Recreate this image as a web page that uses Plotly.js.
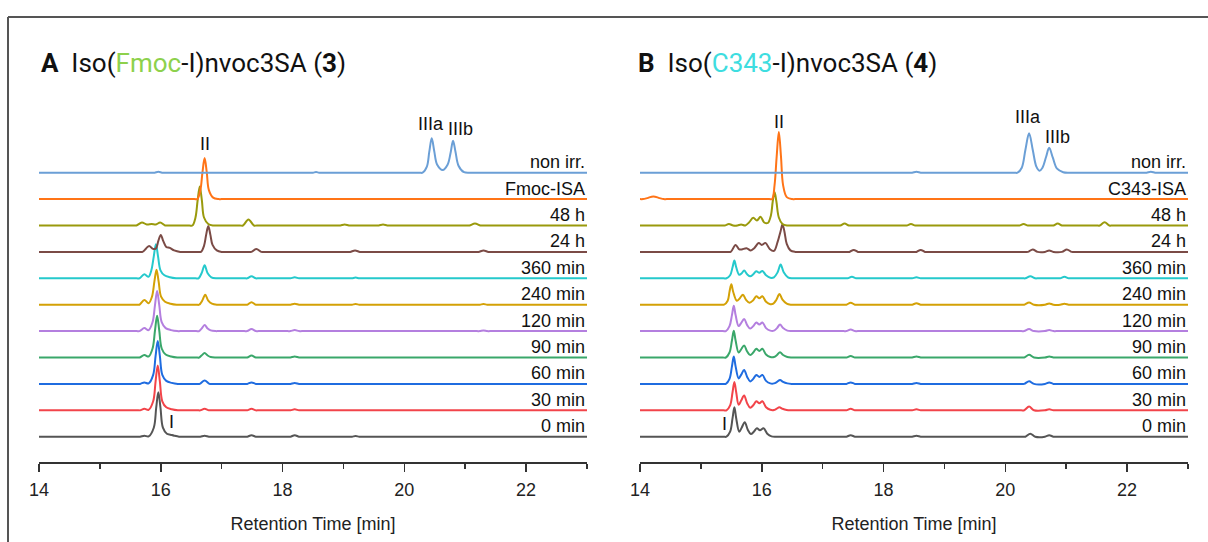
<!DOCTYPE html>
<html>
<head>
<meta charset="utf-8">
<script src="https://cdn.plot.ly/plotly-3.0.1.min.js"></script>
<style>html,body{margin:0;padding:0;background:#fff;}#chart{width:1208px;height:542px;}</style>
</head>
<body>
<div id="chart"></div>
<script>
// ---------- DATA (retention time [min] / signal height) ----------
const labelsA = ['non irr.', 'Fmoc-ISA', '48 h', '24 h', '360 min', '240 min', '120 min', '90 min', '60 min', '30 min', '0 min'];
const labelsB = ['non irr.', 'C343-ISA', '48 h', '24 h', '360 min', '240 min', '120 min', '90 min', '60 min', '30 min', '0 min'];
const tickValues = [14, 16, 18, 20, 22];
const axisTitle = 'Retention Time [min]';

// Panel A : Iso(Fmoc-I)nvoc3SA (3)
const A_nonirr_x = [14, 15.85, 15.9, 15.96, 16.02, 16.07, 18.45, 18.5, 18.55, 18.6, 18.65, 20.25, 20.3, 20.37, 20.41, 20.45, 20.49, 20.54, 20.63, 20.71, 20.76, 20.8, 20.84, 20.89, 20.98, 21.1, 21.15, 23];
const A_nonirr_y = [0, 0, 0, 1, 0, 0, 0, 0, 0.6, 0, 0, 0, 0, 6, 21, 34.4, 22, 8, 2.7, 8, 20, 32, 21, 7, 0.5, 0, 0, 0];
const A_isa_x = [14, 16.55, 16.6, 16.65, 16.685, 16.72, 16.755, 16.79, 16.86, 16.95, 17.0, 23];
const A_isa_y = [0, 0, 0, 9, 27, 41, 27, 9, 1.5, 0, 0, 0];
const A_48h_x = [14, 15.55, 15.6, 15.69, 15.77, 15.85, 15.92, 15.99, 16.07, 16.12, 16.47, 16.52, 16.57, 16.605, 16.64, 16.675, 16.71, 16.78, 16.86, 16.91, 17.3, 17.35, 17.44, 17.53, 17.58, 18.9, 18.95, 19.02, 19.09, 19.14, 19.53, 19.58, 19.65, 19.72, 19.77, 21.02, 21.07, 21.16, 21.25, 21.3, 23];
const A_48h_y = [0, 0, 0, 3, 1, 1.5, 1, 3, 0, 0, 0, 0, 8, 25, 39, 25, 8, 1.5, 0, 0, 0, 0, 6, 0, 0, 0, 0, 1, 0, 0, 0, 0, 1, 0, 0, 0, 0, 2, 0, 0, 0];
const A_24h_x = [14, 15.65, 15.7, 15.76, 15.81, 15.87, 15.92, 15.96, 16.0, 16.04, 16.09, 16.15, 16.22, 16.32, 16.37, 16.61, 16.66, 16.71, 16.745, 16.78, 16.815, 16.85, 16.92, 17.0, 17.05, 17.44, 17.49, 17.57, 17.65, 17.7, 19.06, 19.11, 19.19, 19.27, 19.32, 21.17, 21.22, 21.3, 21.38, 21.43, 23];
const A_24h_y = [0, 0, 0, 3.5, 6, 3, 3.5, 11, 17, 11, 5, 4, 1.5, 0, 0, 0, 0, 6, 17, 26, 17, 7, 1.5, 0, 0, 0, 0, 3, 0, 0, 0, 0, 1.5, 0, 0, 0, 0, 1.5, 0, 0, 0];
const A_360_x = [14, 15.6, 15.65, 15.73, 15.8, 15.845, 15.885, 15.92, 15.955, 15.995, 16.06, 16.15, 16.25, 16.3, 16.57, 16.62, 16.67, 16.72, 16.77, 16.83, 16.92, 16.97, 17.37, 17.42, 17.49, 17.56, 17.61, 18.08, 18.13, 18.2, 18.27, 18.32, 19.09, 19.14, 19.2, 19.26, 19.31, 23];
const A_360_y = [0, 0, 0, 4, 1.5, 8, 22, 34, 22, 8, 3, 1, 0, 0, 0, 0, 5, 13, 5, 1, 0, 0, 0, 0, 2, 0, 0, 0, 0, 1, 0, 0, 0, 0, 0.7, 0, 0, 0];
const A_240_x = [14, 15.6, 15.65, 15.73, 15.8, 15.855, 15.895, 15.93, 15.965, 16.005, 16.07, 16.16, 16.26, 16.31, 16.58, 16.63, 16.68, 16.73, 16.78, 16.84, 16.93, 16.98, 17.37, 17.42, 17.49, 17.56, 17.61, 18.08, 18.13, 18.2, 18.27, 18.32, 19.09, 19.14, 19.2, 19.26, 19.31, 21.19, 21.24, 21.3, 21.36, 21.41, 23];
const A_240_y = [0, 0, 0, 4.7, 1.5, 8, 23, 35, 23, 8, 3, 1, 0, 0, 0, 0, 4, 10, 4, 1, 0, 0, 0, 0, 2.5, 0, 0, 0, 0, 1, 0, 0, 0, 0, 0.7, 0, 0, 0, 0, 0.7, 0, 0, 0];
const A_120_x = [14, 15.6, 15.65, 15.73, 15.8, 15.865, 15.905, 15.94, 15.975, 16.015, 16.08, 16.17, 16.27, 16.32, 16.58, 16.63, 16.67, 16.72, 16.77, 16.82, 16.9, 16.95, 17.37, 17.42, 17.49, 17.56, 17.61, 18.08, 18.13, 18.2, 18.27, 18.32, 21.19, 21.24, 21.3, 21.36, 21.41, 23];
const A_120_y = [0, 0, 0, 3, 1, 9, 26, 40, 26, 9, 3, 1, 0, 0, 0, 0, 2.5, 6, 2.5, 0.7, 0, 0, 0, 0, 2, 0, 0, 0, 0, 1, 0, 0, 0, 0, 0.7, 0, 0, 0];
const A_90_x = [14, 15.6, 15.65, 15.73, 15.8, 15.865, 15.905, 15.94, 15.975, 16.015, 16.08, 16.17, 16.27, 16.32, 16.58, 16.63, 16.67, 16.72, 16.77, 16.82, 16.9, 16.95, 17.37, 17.42, 17.49, 17.56, 17.61, 18.08, 18.13, 18.2, 18.27, 18.32, 23];
const A_90_y = [0, 0, 0, 2.5, 1, 9, 27, 41.7, 27, 9, 3, 1, 0, 0, 0, 0, 2, 4.4, 2, 0.5, 0, 0, 0, 0, 2, 0, 0, 0, 0, 1, 0, 0, 0];
const A_60_x = [14, 15.61, 15.66, 15.73, 15.8, 15.875, 15.915, 15.95, 15.985, 16.025, 16.09, 16.18, 16.28, 16.33, 16.59, 16.64, 16.72, 16.8, 16.85, 17.37, 17.42, 17.49, 17.56, 17.61, 18.08, 18.13, 18.2, 18.27, 18.32, 23];
const A_60_y = [0, 0, 0, 1.5, 0.5, 9, 28, 43, 28, 9, 3, 1, 0, 0, 0, 0, 3.3, 0, 0, 0, 0, 1.5, 0, 0, 0, 0, 1, 0, 0, 0];
const A_30_x = [14, 15.61, 15.66, 15.73, 15.8, 15.875, 15.915, 15.95, 15.985, 16.025, 16.09, 16.18, 16.28, 16.33, 16.6, 16.65, 16.72, 16.79, 16.84, 17.37, 17.42, 17.49, 17.56, 17.61, 18.08, 18.13, 18.2, 18.27, 18.32, 23];
const A_30_y = [0, 0, 0, 1.5, 0.5, 9, 29, 44.7, 29, 9, 3, 1, 0, 0, 0, 0, 1.5, 0, 0, 0, 0, 1.5, 0, 0, 0, 0, 1, 0, 0, 0];
const A_0_x = [14, 15.61, 15.66, 15.73, 15.8, 15.885, 15.925, 15.96, 15.995, 16.035, 16.1, 16.16, 16.22, 16.3, 16.35, 16.6, 16.65, 16.72, 16.79, 16.84, 17.37, 17.42, 17.49, 17.56, 17.61, 18.08, 18.13, 18.2, 18.27, 18.32, 19.09, 19.14, 19.2, 19.26, 19.31, 23];
const A_0_y = [0, 0, 0, 1, 0.3, 9, 29, 44.4, 29, 9, 3, 2, 1, 0, 0, 0, 0, 1, 0, 0, 0, 0, 1.5, 0, 0, 0, 0, 1.5, 0, 0, 0, 0, 0.7, 0, 0, 0];

// Panel B : Iso(C343-I)nvoc3SA (4)
const B_nonirr_x = [14, 18.42, 18.47, 18.54, 18.61, 18.66, 20.15, 20.2, 20.27, 20.33, 20.39, 20.45, 20.51, 20.56, 20.61, 20.67, 20.72, 20.78, 20.85, 20.95, 21.05, 21.1, 22.27, 22.32, 22.39, 22.46, 22.51, 23];
const B_nonirr_y = [0, 0, 0, 1, 0, 0, 0, 0, 5, 23, 39.4, 23, 6, 2, 5, 16, 25, 15, 4, 0.5, 0, 0, 0, 0, 1, 0, 0, 0];
const B_isa_x = [14, 14.05, 14.12, 14.22, 14.32, 14.39, 14.44, 16.12, 16.17, 16.21, 16.245, 16.28, 16.315, 16.35, 16.41, 16.5, 16.55, 23];
const B_isa_y = [0, 0, 1, 2.7, 1, 0, 0, 0, 0, 14, 43, 67, 43, 14, 2, 0, 0, 0];
const B_48h_x = [14, 15.34, 15.39, 15.46, 15.53, 15.6, 15.66, 15.73, 15.79, 15.86, 15.92, 15.98, 16.04, 16.1, 16.15, 16.18, 16.21, 16.24, 16.28, 16.34, 16.42, 16.47, 17.24, 17.29, 17.36, 17.43, 17.48, 18.33, 18.38, 18.45, 18.52, 18.57, 20.18, 20.23, 20.3, 20.37, 20.42, 20.74, 20.79, 20.86, 20.93, 20.98, 21.5, 21.55, 21.63, 21.71, 21.76, 23];
const B_48h_y = [0, 0, 0, 1.5, 0, 0, 1, 0, 3, 7.7, 5, 8.7, 3, 2.5, 10, 24, 33.4, 24, 8, 1.5, 0, 0, 0, 0, 2, 0, 0, 0, 0, 1.5, 0, 0, 0, 0, 1.5, 0, 0, 0, 0, 2, 0, 0, 0, 0, 3.3, 0, 0, 0];
const B_24h_x = [14, 15.44, 15.49, 15.57, 15.63, 15.67, 15.75, 15.82, 15.88, 15.95, 16.0, 16.06, 16.13, 16.2, 16.26, 16.31, 16.34, 16.37, 16.41, 16.47, 16.55, 16.6, 17.39, 17.44, 17.51, 17.58, 17.63, 18.49, 18.54, 18.61, 18.68, 18.73, 20.32, 20.37, 20.45, 20.53, 20.65, 20.72, 20.79, 20.93, 21.01, 21.09, 21.14, 23];
const B_24h_y = [0, 0, 0, 7, 2.5, 2.5, 3.7, 1.5, 4, 9, 7, 9, 3, 1, 10, 21, 27.4, 21, 8, 1.5, 0, 0, 0, 0, 2, 0, 0, 0, 0, 2, 0, 0, 0, 0, 2.5, 0, 0, 1.5, 0, 0, 2.5, 0, 0, 0];
const B_360_x = [14, 15.37, 15.42, 15.48, 15.52, 15.55, 15.58, 15.63, 15.67, 15.71, 15.76, 15.81, 15.86, 15.91, 15.96, 16.01, 16.07, 16.14, 16.2, 16.26, 16.31, 16.36, 16.43, 16.5, 16.55, 17.36, 17.41, 17.48, 17.55, 17.6, 18.42, 18.47, 18.54, 18.61, 18.66, 20.28, 20.33, 20.41, 20.49, 20.54, 20.85, 20.9, 20.97, 21.04, 21.09, 23];
const B_360_y = [0, 0, 0, 3, 11, 17.7, 11, 3.5, 5, 7.7, 4, 2, 4, 7, 5.5, 7.4, 3, 0.5, 1, 6, 13.7, 6, 1, 0, 0, 0, 0, 1.5, 0, 0, 0, 0, 1, 0, 0, 0, 0, 2, 0, 0, 0, 0, 1.5, 0, 0, 0];
const B_240_x = [14, 15.33, 15.38, 15.44, 15.47, 15.5, 15.53, 15.59, 15.64, 15.69, 15.74, 15.8, 15.86, 15.91, 15.96, 16.01, 16.07, 16.14, 16.19, 16.24, 16.29, 16.34, 16.41, 16.48, 16.53, 17.34, 17.39, 17.46, 17.53, 17.58, 18.42, 18.47, 18.54, 18.61, 18.66, 20.26, 20.31, 20.39, 20.47, 20.65, 20.72, 20.79, 20.9, 20.97, 21.04, 21.09, 23];
const B_240_y = [0, 0, 0, 4, 13, 20.4, 13, 4, 6.5, 10, 5, 2, 4.5, 8.4, 6.5, 8.4, 3, 0.5, 1, 5, 10.7, 5, 1, 0, 0, 0, 0, 2, 0, 0, 0, 0, 1.5, 0, 0, 0, 0, 2.3, 0, 0, 1.3, 0, 0, 1, 0, 0, 0];
const B_120_x = [14, 15.36, 15.41, 15.47, 15.51, 15.54, 15.57, 15.62, 15.66, 15.71, 15.76, 15.81, 15.86, 15.91, 15.96, 16.01, 16.07, 16.14, 16.2, 16.25, 16.3, 16.35, 16.42, 16.49, 16.54, 17.34, 17.39, 17.46, 17.53, 17.58, 20.26, 20.31, 20.39, 20.47, 20.65, 20.72, 20.79, 20.84, 23];
const B_120_y = [0, 0, 0, 5, 16, 25.4, 16, 5, 8, 12, 6, 2.5, 5, 8.7, 6.5, 8.7, 3, 0.5, 0.5, 3, 6.7, 3, 0.5, 0, 0, 0, 0, 1.5, 0, 0, 0, 0, 2, 0, 0, 1, 0, 0, 0];
const B_90_x = [14, 15.36, 15.41, 15.47, 15.51, 15.54, 15.57, 15.62, 15.66, 15.71, 15.76, 15.81, 15.86, 15.91, 15.96, 16.01, 16.07, 16.14, 16.2, 16.25, 16.3, 16.35, 16.42, 16.49, 16.54, 17.34, 17.39, 17.46, 17.53, 17.58, 18.42, 18.47, 18.54, 18.61, 18.66, 20.26, 20.31, 20.39, 20.47, 20.65, 20.72, 20.79, 20.84, 23];
const B_90_y = [0, 0, 0, 5, 17, 26.7, 17, 5, 8, 12, 6, 2.5, 5, 8.7, 6.5, 8.7, 3, 0.5, 0.5, 2.5, 5.3, 2.5, 0.5, 0, 0, 0, 0, 1.5, 0, 0, 0, 0, 1, 0, 0, 0, 0, 2.7, 0, 0, 1, 0, 0, 0];
const B_60_x = [14, 15.36, 15.41, 15.47, 15.51, 15.54, 15.57, 15.62, 15.66, 15.71, 15.76, 15.81, 15.86, 15.91, 15.96, 16.01, 16.07, 16.14, 16.2, 16.25, 16.3, 16.35, 16.42, 16.49, 16.54, 17.34, 17.39, 17.46, 17.53, 17.58, 18.42, 18.47, 18.54, 18.61, 18.66, 20.26, 20.31, 20.39, 20.47, 20.65, 20.72, 20.79, 20.84, 23];
const B_60_y = [0, 0, 0, 5, 17.5, 27.4, 17.5, 5.5, 9, 14, 7, 2.5, 5, 9, 7, 9, 3, 0.5, 0.5, 2, 4, 2, 0.5, 0, 0, 0, 0, 1.5, 0, 0, 0, 0, 1, 0, 0, 0, 0, 2.7, 0, 0, 1.5, 0, 0, 0];
const B_30_x = [14, 15.37, 15.42, 15.48, 15.52, 15.55, 15.58, 15.62, 15.66, 15.71, 15.76, 15.81, 15.86, 15.91, 15.96, 16.01, 16.07, 16.14, 16.2, 16.24, 16.29, 16.34, 16.41, 16.48, 16.53, 17.34, 17.39, 17.46, 17.53, 17.58, 18.42, 18.47, 18.54, 18.61, 18.66, 20.26, 20.31, 20.39, 20.47, 20.65, 20.72, 20.79, 20.84, 23];
const B_30_y = [0, 0, 0, 5, 18, 28.4, 18, 5.5, 9.5, 14.7, 7, 2.5, 5, 9, 7, 9, 3, 0.5, 0.3, 1.5, 3, 1.5, 0.3, 0, 0, 0, 0, 1.5, 0, 0, 0, 0, 1, 0, 0, 0, 0, 3.7, 0, 0, 1, 0, 0, 0];
const B_0_x = [14, 15.37, 15.42, 15.48, 15.52, 15.55, 15.58, 15.63, 15.67, 15.72, 15.77, 15.82, 15.87, 15.92, 15.97, 16.03, 16.09, 16.16, 16.25, 16.3, 17.34, 17.39, 17.46, 17.53, 17.58, 18.42, 18.47, 18.54, 18.61, 18.66, 20.28, 20.33, 20.41, 20.49, 20.65, 20.72, 20.79, 20.84, 23];
const B_0_y = [0, 0, 0, 5, 18.5, 29.4, 18.5, 5, 9, 14.4, 7, 2.7, 5, 8.4, 6.5, 8.4, 3, 0.3, 0, 0, 0, 0, 1.5, 0, 0, 0, 0, 1, 0, 0, 0, 0, 3, 0, 0, 1.5, 0, 0, 0];

// peak annotations: [label, retention time, height above the 0 min baseline]
const peakLabelsA = [['II', 16.72, 292.7], ['IIIa', 20.44, 312.7], ['IIIb', 20.92, 307.7], ['I', 16.17, 15.2]];
const peakLabelsB = [['II', 16.28, 314.7], ['IIIa', 20.37, 319.7], ['IIIb', 20.86, 299.7], ['I', 15.39, 12.7]];

// ---------- STYLE ----------
const colors = ['#6b9fd6', '#ff7417', '#9a9a0c', '#7b4b46', '#25c9cc', '#d4a106', '#b47fdf', '#3aa76a', '#1f6ce0', '#f2444a', '#555555'];
const SPACING = 26.4;
const SANS = 'Liberation Sans, Arial, Helvetica, sans-serif';
const TITLEFONT = 'Roboto, Liberation Sans, Arial, sans-serif';
const W = 1208;

const seriesA = [[A_nonirr_x, A_nonirr_y], [A_isa_x, A_isa_y], [A_48h_x, A_48h_y], [A_24h_x, A_24h_y], [A_360_x, A_360_y], [A_240_x, A_240_y], [A_120_x, A_120_y], [A_90_x, A_90_y], [A_60_x, A_60_y], [A_30_x, A_30_y], [A_0_x, A_0_y]];
const seriesB = [[B_nonirr_x, B_nonirr_y], [B_isa_x, B_isa_y], [B_48h_x, B_48h_y], [B_24h_x, B_24h_y], [B_360_x, B_360_y], [B_240_x, B_240_y], [B_120_x, B_120_y], [B_90_x, B_90_y], [B_60_x, B_60_y], [B_30_x, B_30_y], [B_0_x, B_0_y]];

const traces = [];
const annotations = [];
function addPanel(series, labels, xa, ya, peaks) {
  const n = series.length;
  for (let i = n - 1; i >= 0; i--) {
    const off = (n - 1 - i) * SPACING;
    traces.push({
      type: 'scatter', mode: 'lines', xaxis: xa, yaxis: ya,
      x: series[i][0], y: series[i][1].map(v => v + off),
      line: {color: colors[i], width: 2, shape: 'spline', smoothing: 1},
      hoverinfo: 'skip', name: labels[i]
    });
    annotations.push({
      xref: xa, yref: ya, x: 23, y: off + 10.5, xanchor: 'right', yanchor: 'middle',
      text: labels[i], showarrow: false, font: {family: SANS, size: 18, color: '#111'}
    });
  }
  peaks.forEach(p => annotations.push({
    xref: xa, yref: ya, x: p[1], y: p[2], xanchor: 'center', yanchor: 'middle',
    text: p[0], showarrow: false, font: {family: SANS, size: 18, color: '#111'}
  }));
}
addPanel(seriesA, labelsA, 'x', 'y', peakLabelsA);
addPanel(seriesB, labelsB, 'x2', 'y2', peakLabelsB);

// panel titles
annotations.push({
  xref: 'paper', yref: 'paper', x: 39 / W, y: 1.102, xanchor: 'left', yanchor: 'middle', showarrow: false,
  text: '<b>A</b>\u00a0\u00a0Iso(<span style="color:#8dd14c">Fmoc</span>-I)nvoc3SA (<b>3</b>)',
  font: {family: TITLEFONT, size: 26, color: '#111'}
});
annotations.push({
  xref: 'paper', yref: 'paper', x: 636 / W, y: 1.102, xanchor: 'left', yanchor: 'middle', showarrow: false,
  text: '<b>B</b>\u00a0\u00a0Iso(<span style="color:#3edde0">C343</span>-I)nvoc3SA (<b>4</b>)',
  font: {family: TITLEFONT, size: 26, color: '#111'}
});

function xAxis(domain, anchor) {
  return {
    domain: domain, anchor: anchor, range: [14, 23], fixedrange: true,
    tickmode: 'array', tickvals: tickValues, ticktext: tickValues.map(String),
    ticks: 'outside', ticklen: 8, tickwidth: 1.5, tickcolor: '#333',
    ticklabelstandoff: 3,
    showline: true, linecolor: '#333', linewidth: 1.5,
    showgrid: false, zeroline: false,
    tickfont: {family: SANS, size: 18, color: '#222'},
    title: {text: axisTitle, font: {family: SANS, size: 18, color: '#222'}, standoff: 18},
    minor: {tickmode: 'linear', tick0: 15, dtick: 2, ticks: 'outside', ticklen: 5, tickwidth: 1.5, tickcolor: '#333', showgrid: false}
  };
}
function yAxis(anchor) {
  return {anchor: anchor, range: [-25.3, 336.7], visible: false, fixedrange: true, showgrid: false, zeroline: false};
}

const layout = {
  width: 1208, height: 542,
  margin: {l: 0, r: 0, t: 100, b: 80},
  paper_bgcolor: '#ffffff', plot_bgcolor: '#ffffff',
  showlegend: false,
  xaxis: xAxis([39 / W, 587 / W], 'y'),
  yaxis: yAxis('x'),
  xaxis2: xAxis([640 / W, 1188 / W], 'y2'),
  yaxis2: yAxis('x2'),
  annotations: annotations,
  shapes: [
    {type: 'line', xref: 'paper', yref: 'paper', x0: 8 / W, x1: 1.01, y0: 1.2293, y1: 1.2293, line: {color: '#555', width: 2}},
    {type: 'line', xref: 'paper', yref: 'paper', x0: 8 / W, x1: 8 / W, y0: 1.2293, y1: -0.23, line: {color: '#555', width: 2}}
  ]
};

Plotly.newPlot('chart', traces, layout, {displayModeBar: false, staticPlot: true});
</script>
</body>
</html>
